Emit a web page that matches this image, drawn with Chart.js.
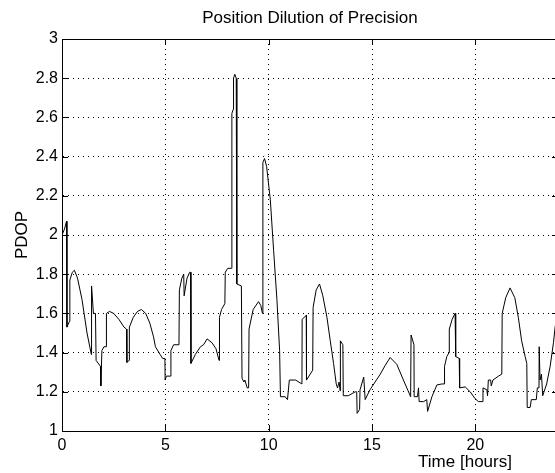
<!DOCTYPE html>
<html>
<head>
<meta charset="utf-8">
<script src="https://cdn.jsdelivr.net/npm/chart.js@4/dist/chart.umd.min.js"></script>
<style>
  html, body { margin: 0; padding: 0; background: #fff; overflow: hidden; }
  #wrap { width: 560px; height: 473px; position: relative; }
</style>
</head>
<body>
<div id="wrap"><canvas id="pdop"></canvas></div>
<script>
// time of day in hours and the PDOP read at that time
const hours = [
    0.00, 0.12, 0.22, 0.24, 0.36, 0.38, 0.50, 0.60, 0.75, 0.97,
    1.21, 1.42, 1.43, 1.52, 1.62, 1.65, 1.86, 1.88, 1.93, 2.03,
    2.14, 2.15, 2.30, 2.50, 2.75, 3.00, 3.12, 3.14, 3.25, 3.26,
    3.45, 3.65, 3.84, 4.05, 4.25, 4.43, 4.52, 4.75, 4.87, 4.98,
    4.99, 5.05, 5.25, 5.27, 5.40, 5.66, 5.68, 5.80, 5.89, 5.91,
    5.93, 6.05, 6.18, 6.22, 6.24, 6.45, 6.70, 6.85, 7.02, 7.26,
    7.45, 7.60, 7.62, 7.72, 7.88, 7.90, 8.02, 8.20, 8.22, 8.28,
    8.30, 8.36, 8.43, 8.46, 8.68, 8.71, 8.80, 8.85, 8.96, 9.03,
    9.05, 9.25, 9.51, 9.62, 9.70, 9.72, 9.80, 9.90, 10.08, 10.24,
    10.40, 10.53, 10.57, 10.80, 10.91, 11.00, 11.30, 11.61, 11.62, 11.82,
    11.83, 12.13, 12.15, 12.30, 12.46, 12.62, 12.82, 12.98, 13.14, 13.27,
    13.33, 13.41, 13.46, 13.47, 13.59, 13.61, 13.85, 14.19, 14.26, 14.28,
    14.40, 14.42, 14.60, 14.67, 14.90, 15.15, 15.40, 15.64, 15.88, 16.20,
    16.52, 16.87, 16.89, 17.03, 17.04, 17.20, 17.25, 17.28, 17.50, 17.65,
    17.69, 17.90, 18.14, 18.38, 18.50, 18.51, 18.62, 18.73, 18.74, 18.88,
    19.02, 19.05, 19.22, 19.24, 19.51, 19.75, 19.99, 20.15, 20.36, 20.37,
    20.56, 20.59, 20.63, 20.74, 20.77, 20.85, 21.12, 21.28, 21.30, 21.47,
    21.68, 21.91, 22.08, 22.24, 22.41, 22.49, 22.51, 22.65, 22.71, 22.95,
    23.00, 23.08, 23.09, 23.13, 23.20, 23.26, 23.45, 23.62, 23.78, 23.86,
    23.95
];
const pdop = [
    2.00, 2.03, 2.07, 1.53, 1.56, 1.77, 1.81, 1.82, 1.78, 1.67,
    1.50, 1.39, 1.74, 1.60, 1.60, 1.36, 1.33, 1.23, 1.41, 1.43,
    1.43, 1.60, 1.61, 1.60, 1.57, 1.53, 1.52, 1.35, 1.36, 1.53,
    1.58, 1.61, 1.62, 1.60, 1.55, 1.48, 1.43, 1.39, 1.37, 1.37,
    1.26, 1.28, 1.28, 1.41, 1.44, 1.44, 1.72, 1.78, 1.80, 1.69,
    1.69, 1.78, 1.81, 1.81, 1.345, 1.39, 1.43, 1.44, 1.47, 1.45,
    1.42, 1.36, 1.58, 1.62, 1.65, 1.81, 1.83, 1.83, 2.62, 2.64,
    2.80, 2.82, 2.80, 1.75, 1.74, 1.27, 1.25, 1.26, 1.22, 1.22,
    1.52, 1.62, 1.66, 1.64, 1.60, 2.37, 2.39, 2.35, 2.18, 1.92,
    1.67, 1.41, 1.175, 1.175, 1.16, 1.26, 1.26, 1.24, 1.57, 1.59,
    1.26, 1.31, 1.63, 1.72, 1.75, 1.69, 1.58, 1.46, 1.345, 1.24,
    1.22, 1.25, 1.205, 1.46, 1.44, 1.18, 1.18, 1.20, 1.20, 1.09,
    1.11, 1.21, 1.275, 1.16, 1.21, 1.25, 1.29, 1.335, 1.375, 1.34,
    1.26, 1.175, 1.49, 1.44, 1.175, 1.175, 1.22, 1.15, 1.15, 1.16,
    1.10, 1.175, 1.235, 1.24, 1.24, 1.33, 1.38, 1.40, 1.52, 1.57,
    1.60, 1.38, 1.37, 1.22, 1.225, 1.20, 1.165, 1.15, 1.15, 1.22,
    1.21, 1.18, 1.26, 1.26, 1.23, 1.26, 1.28, 1.29, 1.60, 1.68,
    1.73, 1.68, 1.58, 1.46, 1.38, 1.345, 1.12, 1.12, 1.16, 1.16,
    1.22, 1.22, 1.43, 1.26, 1.29, 1.18, 1.24, 1.33, 1.45, 1.53,
    1.58
];
const xTicks = [0, 5, 10, 15, 20];
const yTicks = [1, 1.2, 1.4, 1.6, 1.8, 2, 2.2, 2.4, 2.6, 2.8, 3];

const family = "'Liberation Sans', Arial, sans-serif";
const tickFont = { family: family, size: 16 };
const labelFont = { family: family, size: 17 };

// matlab style box with inward ticks, plus the x label
const boxPlugin = {
    id: 'box',
    afterDraw(chart) {
        const ctx = chart.ctx;
        const a = chart.chartArea;
        const xs = chart.scales.x;
        const ys = chart.scales.y;
        ctx.save();
        ctx.strokeStyle = '#000';
        ctx.lineWidth = 1;
        ctx.setLineDash([]);
        ctx.beginPath();
        xTicks.forEach(function(t) {
            const px = Math.round(xs.getPixelForValue(t)) + 0.5;
            ctx.moveTo(px, a.bottom); ctx.lineTo(px, a.bottom - 6);
            ctx.moveTo(px, a.top); ctx.lineTo(px, a.top + 6);
        });
        yTicks.forEach(function(t) {
            const py = Math.round(ys.getPixelForValue(t)) + 0.5;
            ctx.moveTo(a.left, py); ctx.lineTo(a.left + 6, py);
            ctx.moveTo(a.right, py); ctx.lineTo(a.right - 6, py);
        });
        ctx.stroke();
        ctx.strokeRect(Math.round(a.left) + 0.5, Math.round(a.top) + 0.5,
            Math.round(a.right - a.left), Math.round(a.bottom - a.top));

        ctx.fillStyle = '#000';
        ctx.font = labelFont.size + 'px ' + family;
        ctx.textAlign = 'center';
        ctx.textBaseline = 'middle';
        ctx.fillText('Time [hours]', xs.getPixelForValue(19.5), a.bottom + 31);
        ctx.restore();
    }
};

const ctx = document.getElementById('pdop').getContext('2d');
new Chart(ctx, {
    type: 'line',
    data: {
        datasets: [{
            label: 'PDOP',
            data: hours.map((h, i) => ({ x: h, y: pdop[i] })),
            borderColor: '#000',
            borderWidth: 1,
            pointRadius: 0,
            tension: 0,
            fill: false
        }]
    },
    options: {
        responsive: true,
        maintainAspectRatio: false,
        animation: false,
        devicePixelRatio: 1,
        layout: { padding: { top: 0, right: 2, bottom: 0, left: 0 } },
        plugins: {
            legend: { display: false },
            tooltip: { enabled: false },
            title: {
                display: true,
                text: 'Position Dilution of Precision',
                color: '#000',
                font: { family: family, size: 17, weight: 'normal' },
                fullSize: false,
                padding: { top: 8, bottom: 10.6 }
            }
        },
        scales: {
            x: {
                type: 'linear',
                min: 0,
                max: 24,
                afterBuildTicks: function(scale) {
                    scale.ticks = xTicks.map(v => ({ value: v }));
                },
                afterFit: function(scale) { scale.height = 42; },
                ticks: { color: '#000', font: tickFont, padding: 5, maxRotation: 0 },
                grid: { color: '#000', lineWidth: 1, drawTicks: false },
                border: { display: true, color: '#000', dash: [1, 4] }
            },
            y: {
                type: 'linear',
                min: 1,
                max: 3,
                afterBuildTicks: function(scale) {
                    scale.ticks = yTicks.map(v => ({ value: v }));
                },
                afterFit: function(scale) { scale.width = 62; },
                ticks: {
                    color: '#000',
                    font: tickFont,
                    padding: 4,
                    callback: v => String(Math.round(v * 10) / 10)
                },
                grid: { color: '#000', lineWidth: 1, drawTicks: false },
                border: { display: true, color: '#000', dash: [1, 4] },
                title: {
                    display: true,
                    text: 'PDOP',
                    color: '#000',
                    font: labelFont,
                    padding: { top: 12, bottom: 0 }
                }
            }
        }
    },
    plugins: [boxPlugin]
});
</script>
</body>
</html>
